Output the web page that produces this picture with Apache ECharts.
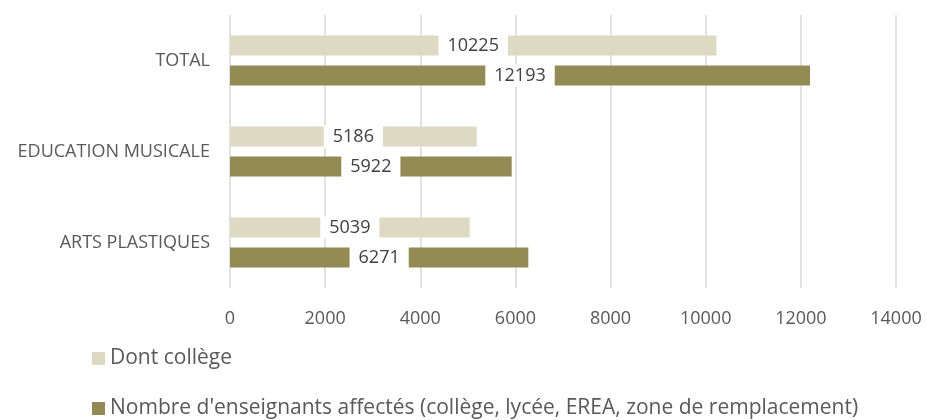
<!DOCTYPE html>
<html>
<head>
<meta charset="utf-8">
<script src="https://cdn.jsdelivr.net/npm/echarts@6/dist/echarts.min.js"></script>
<style>
  html, body { margin: 0; padding: 0; background: #fff; }
  #main { width: 927px; height: 420px; }
</style>
</head>
<body>
<div id="main"></div>
<script>
// categories from bottom to top
const categories = ['ARTS PLASTIQUES', 'EDUCATION MUSICALE', 'TOTAL']
const dontCollege = [5039, 5186, 10225]
const totalAffectes = [6271, 5922, 12193]
const seriesNames = ['Dont collège', "Nombre d'enseignants affectés (collège, lycée, EREA, zone de remplacement)"]

const font = 'Open Sans'
const myChart = echarts.init(document.getElementById('main'))

const labelStyle = {
  show: true,
  position: 'inside',
  color: '#404040',
  fontSize: 18,
  fontFamily: font,
  backgroundColor: '#fff',
  padding: [2, 9]
}

myChart.setOption({
  animation: false,
  grid: {
    left: 230,
    right: 31,
    top: 15,
    bottom: 132
  },
  legend: {
    orient: 'vertical',
    left: 92,
    top: 348,
    padding: 0,
    itemWidth: 13,
    itemHeight: 13,
    itemGap: 29,
    icon: 'rect',
    data: seriesNames,
    textStyle: {
      color: '#595959',
      fontSize: 21,
      lineHeight: 20,
      fontFamily: font
    }
  },
  xAxis: {
    type: 'value',
    min: 0,
    max: 14000,
    interval: 2000,
    axisLine: { show: false },
    axisTick: { show: false },
    axisLabel: {
      color: '#595959',
      fontSize: 18,
      fontFamily: font,
      margin: 22,
      formatter: v => String(v)
    },
    splitLine: {
      lineStyle: { color: '#d9d9d9', width: 1.5 }
    }
  },
  yAxis: {
    type: 'category',
    data: categories,
    axisLine: { show: false },
    axisTick: { show: false },
    axisLabel: {
      color: '#595959',
      fontSize: 18,
      fontFamily: font,
      margin: 20
    }
  },
  series: [
    {
      name: seriesNames[0],
      type: 'bar',
      data: dontCollege,
      barWidth: 20,
      barGap: '50%',
      itemStyle: { color: '#ddd9c3' },
      label: labelStyle
    },
    {
      name: seriesNames[1],
      type: 'bar',
      data: totalAffectes,
      barWidth: 20,
      itemStyle: { color: '#948a54' },
      label: labelStyle
    }
  ]
})
</script>
</body>
</html>
